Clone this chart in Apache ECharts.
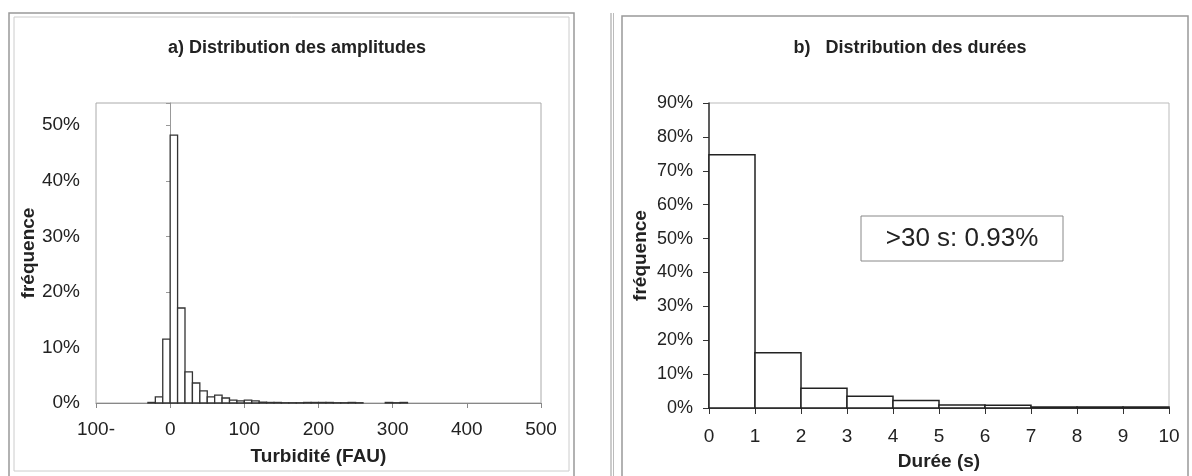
<!DOCTYPE html>
<html>
<head>
<meta charset="utf-8">
<script src="https://cdn.jsdelivr.net/npm/echarts@6/dist/echarts.min.js"></script>
<style>
  html, body { margin: 0; padding: 0; background: #fff; }
  #chart { width: 1192px; height: 476px; }
</style>
</head>
<body>
<div id="chart"></div>
<script>
// a) amplitudes : classes de 10 FAU (debut de classe) et frequences en %
var ampStart = [-30, -20, -10, 0, 10, 20, 30, 40, 50, 60, 70, 80, 90, 100, 110,
                120, 130, 140, 150, 160, 170, 180, 190, 200, 210, 220, 230, 240, 250, 290, 300, 310];
var ampFreq  = [0.1, 1.1, 11.5, 48.2, 17.1, 5.6, 3.6, 2.2, 1.1, 1.4, 0.9, 0.5, 0.4, 0.5, 0.4,
                0.15, 0.1, 0.1, 0.05, 0.05, 0.05, 0.1, 0.1, 0.1, 0.1, 0.05, 0.05, 0.1, 0.05, 0.1, 0.05, 0.1];
var ampTicks = ['100-', '0', '100', '200', '300', '400', '500'];

// b) durees : classes de 1 s
var durStart = [0, 1, 2, 3, 4, 5, 6, 7, 8, 9];
var durFreq  = [74.7, 16.3, 5.8, 3.5, 2.2, 0.9, 0.8, 0.3, 0.3, 0.3];
var durTicks = ['0', '1', '2', '3', '4', '5', '6', '7', '8', '9', '10'];

var myChart = echarts.init(document.getElementById('chart'));

var FONT = 'Liberation Sans, Arial, sans-serif';
var TXT = '#222';

function histo(color, width) {
    return function (params, api) {
        var a = api.coord([api.value(0), api.value(2)]);
        var b = api.coord([api.value(1), 0]);
        return {
            type: 'rect',
            shape: { x: a[0], y: a[1], width: b[0] - a[0], height: b[1] - a[1] },
            style: { fill: '#fff', stroke: color, lineWidth: width }
        };
    };
}

var option = {
    animation: false,
    textStyle: { fontFamily: FONT },
    title: [
        { text: 'a) Distribution des amplitudes', left: 292, top: 34, textAlign: 'center',
          textStyle: { fontFamily: FONT, fontSize: 18, fontWeight: 'bold', color: TXT } },
        { text: 'b)   Distribution des durées', left: 905, top: 34, textAlign: 'center',
          textStyle: { fontFamily: FONT, fontSize: 18, fontWeight: 'bold', color: TXT } }
    ],
    grid: [
        { left: 96, top: 103, width: 445, height: 300, show: true, borderColor: '#aaa', borderWidth: 1 },
        { left: 709, top: 103, width: 460, height: 306, show: true, borderColor: '#bbb', borderWidth: 1 }
    ],
    xAxis: [
        {
            type: 'value', gridIndex: 0, min: -100, max: 500, interval: 100,
            name: 'Turbidité (FAU)', nameLocation: 'middle', nameGap: 44,
            nameTextStyle: { fontSize: 19, fontWeight: 'bold', color: TXT, fontFamily: FONT },
            axisLine: { onZero: false, lineStyle: { color: '#888', width: 1 } },
            axisTick: { show: true, length: 5, lineStyle: { color: '#888' } },
            axisLabel: {
                fontSize: 19, color: TXT, margin: 17,
                formatter: function (v) { return ampTicks[Math.round((v + 100) / 100)]; }
            },
            splitLine: { show: false }
        },
        {
            type: 'value', gridIndex: 1, min: 0, max: 10, interval: 1,
            name: 'Durée (s)', nameLocation: 'middle', nameGap: 44,
            nameTextStyle: { fontSize: 19, fontWeight: 'bold', color: TXT, fontFamily: FONT },
            axisLine: { onZero: false, lineStyle: { color: '#333', width: 1.5 } },
            axisTick: { show: true, length: 6, lineStyle: { color: '#333' } },
            axisLabel: {
                fontSize: 19, color: TXT, margin: 19,
                formatter: function (v) { return durTicks[Math.round(v)]; }
            },
            splitLine: { show: false }
        }
    ],
    yAxis: [
        {
            type: 'value', gridIndex: 0, min: 0, max: 54, interval: 10,
            name: 'fréquence', nameLocation: 'middle', nameGap: 55,
            nameTextStyle: { fontSize: 19, fontWeight: 'bold', color: TXT, fontFamily: FONT },
            axisLine: { show: false },
            axisTick: { show: false },
            axisLabel: { fontSize: 19, color: TXT, margin: 16, showMaxLabel: false,
                         formatter: function (v) { return v > 50 ? '' : v + '%'; } },
            splitLine: { show: false }
        },
        {
            type: 'value', gridIndex: 1, min: 0, max: 90, interval: 10,
            name: 'fréquence', nameLocation: 'middle', nameGap: 59,
            nameTextStyle: { fontSize: 19, fontWeight: 'bold', color: TXT, fontFamily: FONT },
            axisLine: { show: true, lineStyle: { color: '#333', width: 1.5 } },
            axisTick: { show: true, length: 6, lineStyle: { color: '#333' } },
            axisLabel: { fontSize: 18, color: TXT, margin: 16,
                         formatter: function (v) { return v + '%'; } },
            splitLine: { show: false }
        },
        {
            // axe vertical croisant a 0 FAU (trait et graduations seulement)
            type: 'value', gridIndex: 0, min: 0, max: 54, interval: 10,
            position: 'left', offset: -74,
            axisLine: { show: true, lineStyle: { color: '#999', width: 1 } },
            axisTick: { show: true, length: 4, lineStyle: { color: '#999' } },
            axisLabel: { show: false },
            splitLine: { show: false }
        }
    ],
    series: [
        {
            name: 'amplitudes',
            type: 'custom',
            xAxisIndex: 0, yAxisIndex: 0,
            renderItem: histo('#333', 1.3),
            encode: { x: [0, 1], y: 2 },
            data: ampStart.map(function (s, i) { return [s, s + 10, ampFreq[i]]; }),
            z: 3
        },
        {
            name: 'durées',
            type: 'custom',
            xAxisIndex: 1, yAxisIndex: 1,
            renderItem: histo('#222', 1.5),
            encode: { x: [0, 1], y: 2 },
            data: durStart.map(function (s, i) { return [s, s + 1, durFreq[i]]; }),
            z: 3
        }
    ],
    graphic: [
        // cadres des deux graphiques
        { type: 'rect', shape: { x: 9, y: 13, width: 565, height: 470 }, style: { fill: null, stroke: '#999', lineWidth: 1.5 }, silent: true },
        { type: 'rect', shape: { x: 14, y: 17, width: 555, height: 454 }, style: { fill: null, stroke: '#ccc', lineWidth: 1 }, silent: true },
        { type: 'line', shape: { x1: 611, y1: 13, x2: 611, y2: 476 }, style: { stroke: '#999', lineWidth: 1 }, silent: true },
        { type: 'line', shape: { x1: 613.5, y1: 13, x2: 613.5, y2: 476 }, style: { stroke: '#bbb', lineWidth: 1 }, silent: true },
        { type: 'rect', shape: { x: 622, y: 16, width: 566, height: 470 }, style: { fill: null, stroke: '#999', lineWidth: 1.5 }, silent: true },
        // annotation
        { type: 'rect', shape: { x: 861, y: 216, width: 202, height: 45 }, style: { fill: '#fff', stroke: '#888', lineWidth: 1 }, z: 10 },
        { type: 'text', x: 962, y: 239, z: 11,
          style: { text: '>30 s: 0.93%', fontSize: 26, fontFamily: FONT, fill: TXT, align: 'center', verticalAlign: 'middle' } }
    ]
};

myChart.setOption(option);
</script>
</body>
</html>
